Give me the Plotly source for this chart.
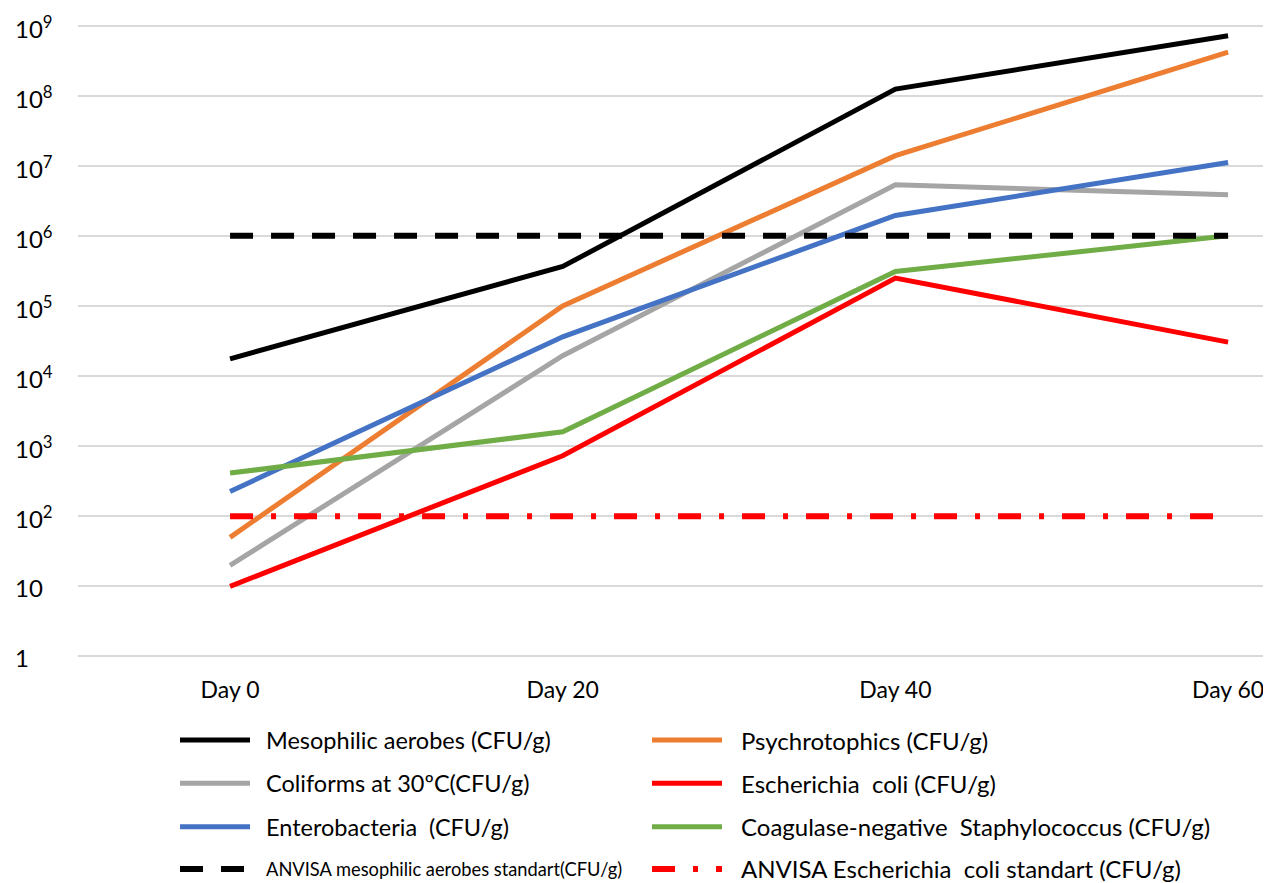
import math
import plotly.graph_objects as go

# ---------------- data ----------------
days = ["Day 0", "Day 20", "Day 40", "Day 60"]

mesophilic = [17600, 365000, 124000000, 713000000]
psychrotrophics = [50, 100000, 13900000, 418000000]
coliforms = [20, 19500, 5350000, 3850000]
e_coli = [10, 730, 250000, 30500]
enterobacteria = [226, 36300, 1950000, 11100000]
staphylococcus = [413, 1600, 310000, 1000000]
anvisa_mesophilic = [1000000, 1000000, 1000000, 1000000]
anvisa_e_coli = [100, 100, 100, 100]

series_names = [
    "Mesophilic aerobes (CFU/g)",
    "Psychrotophics (CFU/g)",
    "Coliforms at 30ºC(CFU/g)",
    "Escherichia  coli (CFU/g)",
    "Enterobacteria  (CFU/g)",
    "Coagulase-negative  Staphylococcus (CFU/g)",
    "ANVISA mesophilic aerobes standart(CFU/g)",
    "ANVISA Escherichia  coli standart (CFU/g)",
]
series_values = [mesophilic, psychrotrophics, coliforms, e_coli,
                 enterobacteria, staphylococcus, anvisa_mesophilic, anvisa_e_coli]

y_tick_values = [1, 10, 100, 1e3, 1e4, 1e5, 1e6, 1e7, 1e8, 1e9]
y_tick_labels = ["1", "10", "10<sup>2</sup>", "10<sup>3</sup>", "10<sup>4</sup>",
                 "10<sup>5</sup>", "10<sup>6</sup>", "10<sup>7</sup>",
                 "10<sup>8</sup>", "10<sup>9</sup>"]

# ---------------- styles ----------------
colors = ["#000000", "#ED7D31", "#A5A5A5", "#FF0000",
          "#4472C4", "#70AD47", "#000000", "#FF0000"]
dashes = ["solid", "solid", "solid", "solid", "solid", "solid",
          "23px,18px", "23px,18px,5px,18px"]
widths = [5, 5, 5, 5, 5, 5, 6, 6]

FONT = "Lato"
OFF = 8  # page body margin in the browser
W, H = 1271 - OFF, 883 - OFF
ML, MR, MT = 78 - OFF, 0, 22 - OFF
PH = 638
MB = H - MT - PH
PW = W - ML - MR


def px_x(sx):
    """screen x -> paper x"""
    return (sx - OFF - ML) / PW


def px_y(sy):
    """screen y -> paper y"""
    return (MT + PH - (sy - OFF)) / PH


fig = go.Figure()
for name, vals, c, d, w in zip(series_names, series_values, colors, dashes, widths):
    fig.add_trace(go.Scatter(
        x=days, y=vals, mode="lines", name=name,
        line=dict(color=c, width=w, dash=d),
        showlegend=False,
    ))

# y tick labels (left aligned like the original)
annotations = []
for v, lab in zip(y_tick_values, y_tick_labels):
    annotations.append(dict(
        x=px_x(13), xref="paper", xanchor="left",
        y=math.log10(v), yref="y", yanchor="middle",
        text=lab, showarrow=False,
        font=dict(family=FONT, size=24, color="#000000"),
        yshift=-1,
    ))

# manual legend (2 columns x 4 rows)
col_line = [(180, 250), (652, 722)]
col_text = [264, 739]
col_size = [23.5, 24]
row_y = [740, 783.3, 826.7, 869]
shapes = []
for i, (name, c, d, w) in enumerate(zip(series_names, colors, dashes, widths)):
    r, col = divmod(i, 2)
    x0, x1 = col_line[col]
    yp = px_y(row_y[r])
    shapes.append(dict(
        type="line", xref="paper", yref="paper",
        x0=px_x(x0), x1=px_x(x1), y0=yp, y1=yp,
        line=dict(color=c, width=w, dash=d),
    ))
    size = 18.3 if i == 6 else col_size[col]
    annotations.append(dict(
        x=px_x(col_text[col]), xref="paper", xanchor="left",
        y=yp, yref="paper", yanchor="middle",
        text=name, showarrow=False,
        font=dict(family=FONT, size=size, color="#000000"),
    ))

fig.update_layout(
    width=W, height=H,
    margin=dict(l=ML, r=MR, t=MT, b=MB),
    paper_bgcolor="white", plot_bgcolor="white",
    showlegend=False,
    font=dict(family=FONT, size=23, color="#000000"),
    xaxis=dict(
        type="category", range=[-0.457, 3.129],
        showgrid=False, zeroline=False, showline=False,
        ticks="outside", ticklen=9, tickcolor="rgba(0,0,0,0)",
        tickfont=dict(family=FONT, size=23, color="#000000"),
    ),
    yaxis=dict(
        type="log", range=[-0.05, 9.05],
        tickvals=y_tick_values, showticklabels=False,
        showgrid=True, gridcolor="#D9D9D9", gridwidth=1.5,
        zeroline=False, showline=False,
    ),
    annotations=annotations,
    shapes=shapes,
)

fig.write_html("out.html")
